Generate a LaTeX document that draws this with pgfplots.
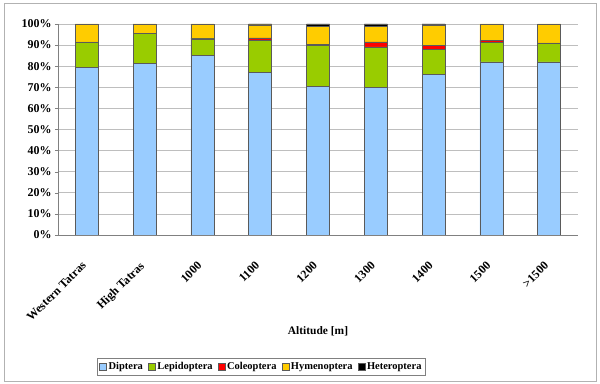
\documentclass[border=0pt]{standalone}
\usepackage{pgfplots}
\usepackage{pgfplotstable}
\pgfplotsset{compat=1.18}
\usepackage{fontspec}
\setmainfont{Liberation Serif}
\definecolor{dip}{RGB}{153,204,255}
\definecolor{lep}{RGB}{153,204,0}
\definecolor{col}{RGB}{255,0,0}
\definecolor{hym}{RGB}{255,204,0}
\definecolor{het}{RGB}{0,0,0}
\definecolor{edge}{RGB}{90,90,90}
\definecolor{gridc}{RGB}{190,190,190}
\pgfplotstableread{
x  dip   lep   col  hym  het
0  79.3  12.2  0.0  8.5  0.0
1  81.2  14.3  0.0  4.5  0.0
2  85.1   7.8  0.4  6.7  0.0
3  77.2  15.0  1.2  6.2  0.4
4  70.4  19.3  0.8  8.4  1.1
5  70.0  19.1  2.4  7.4  1.1
6  76.3  11.5  2.0  9.7  0.5
7  82.0   9.3  0.9  7.8  0.0
8  82.0   9.0  0.0  9.0  0.0
}\datatable
\begin{document}
\begin{tikzpicture}
\path[use as bounding box] (0,0) rectangle (600bp,384bp);
\draw[gray!60, line width=0.8bp] (4bp,3bp) rectangle (596bp,381bp);
\begin{axis}[
  at={(58bp,149bp)}, anchor=south west,
  scale only axis, width=520bp, height=211bp,
  ybar stacked, bar width=23bp,
  xmin=-0.5, xmax=8.5, ymin=0, ymax=100,
  axis line style={draw=gray},
  axis x line*=bottom, axis y line*=left,
  xtick={0,...,8},
  xticklabels={Western Tatras, High Tatras, 1000, 1100, 1200, 1300, 1400, 1500, {>1500}},
  x tick label style={rotate=45, anchor=north east, font=\bfseries\fontsize{12}{13}\selectfont, inner sep=1pt, xshift=-19bp, yshift=-11bp},
  major x tick style={draw=none},
  extra x ticks={-0.5,0.5,...,8.5}, extra x tick labels={},
  extra x tick style={grid=none, major tick length=4bp, tick style={draw=gray}},
  ytick={0,10,...,100},
  yticklabel={\pgfmathprintnumber{\tick}\%},
  y tick label style={font=\bfseries\fontsize{12}{13}\selectfont},
  /pgf/number format/assume math mode=true,
  ymajorgrids, grid style={gridc, line width=0.6bp},
  ytick style={draw=gray},
  tick align=outside, major tick length=3bp,
  xlabel={Altitude [m]},
  xlabel style={at={(rel axis cs:0.5,-0.455)}, anchor=center, font=\bfseries\fontsize{11.5}{13}\selectfont},
  every axis plot/.append style={draw=edge, line width=0.6bp},
  legend columns=5,
  legend style={at={(rel axis cs:0.391,-0.626)}, anchor=center, draw=gray, line width=0.6bp,
    font=\bfseries\fontsize{10.5}{12}\selectfont, inner sep=2pt,
    /tikz/every even column/.append style={column sep=3bp}},
  legend image code/.code={\draw[#1, draw=edge, line width=0.5bp] (0bp,-3.5bp) rectangle (7bp,3.5bp);},
]
\addplot[fill=dip] table[x=x, y=dip] {\datatable};
\addplot[fill=lep] table[x=x, y=lep] {\datatable};
\addplot[fill=col] table[x=x, y=col] {\datatable};
\addplot[fill=hym] table[x=x, y=hym] {\datatable};
\addplot[fill=het] table[x=x, y=het] {\datatable};
\legend{Diptera, Lepidoptera, Coleoptera, Hymenoptera, Heteroptera}
\end{axis}
\end{tikzpicture}
\end{document}
